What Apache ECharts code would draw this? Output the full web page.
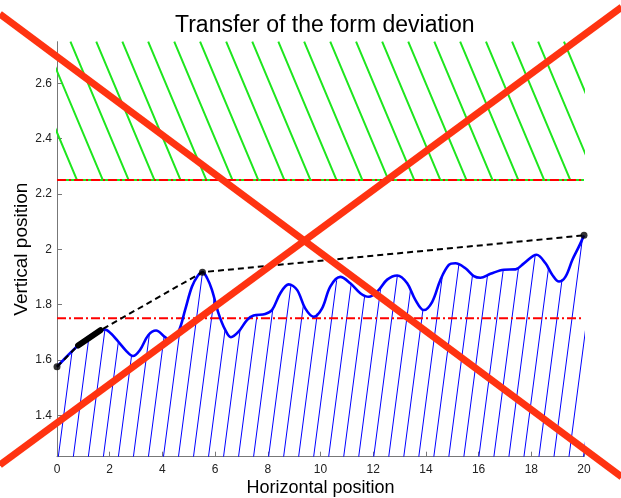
<!DOCTYPE html>
<html>
<head>
<meta charset="utf-8">
<script src="https://cdn.jsdelivr.net/npm/echarts@6/dist/echarts.min.js"></script>
<style>
html, body { margin: 0; padding: 0; background: #ffffff; }
#chart { width: 621px; height: 498px; }
</style>
</head>
<body>
<div id="chart"></div>
<script>
// ---------- data ----------
const titleText = 'Transfer of the form deviation';
const xAxisName = 'Horizontal position';
const yAxisName = 'Vertical position';

const xTickValues = [0, 2, 4, 6, 8, 10, 12, 14, 16, 18, 20];
const yTickValues = [1.4, 1.6, 1.8, 2, 2.2, 2.4, 2.6];

// measured form profile (blue curve)
const curveX = [0, 0.4, 0.8, 1.2, 1.5, 1.82, 2.05, 2.27, 2.65, 2.88, 3.15, 3.47, 3.76, 4.1, 4.29, 4.61, 4.86, 5.12, 5.35, 5.52, 5.7, 5.88, 6.13, 6.38, 6.6, 6.89, 7.21, 7.46, 7.9, 8.16, 8.47, 8.79, 9.11, 9.42, 9.74, 10.06, 10.37, 10.75, 11.13, 11.51, 11.83, 12.21, 12.53, 12.91, 13.29, 13.6, 13.92, 14.24, 14.55, 14.87, 15.12, 15.5, 15.82, 16.07, 16.45, 16.96, 17.4, 17.72, 18.2, 18.54, 18.8, 19.05, 19.3, 19.56, 19.81, 20];
const curveY = [1.575, 1.615, 1.652, 1.683, 1.700, 1.71, 1.695, 1.672, 1.630, 1.614, 1.636, 1.69, 1.706, 1.682, 1.672, 1.702, 1.78, 1.864, 1.905, 1.917, 1.895, 1.853, 1.768, 1.709, 1.682, 1.702, 1.744, 1.76, 1.766, 1.78, 1.84, 1.873, 1.853, 1.786, 1.756, 1.786, 1.865, 1.9, 1.877, 1.841, 1.828, 1.853, 1.89, 1.905, 1.877, 1.817, 1.78, 1.81, 1.889, 1.943, 1.949, 1.931, 1.903, 1.897, 1.911, 1.926, 1.927, 1.949, 1.98, 1.949, 1.907, 1.883, 1.901, 1.962, 2.01, 2.05];

// upper envelope (black dashed) and its support points
const hullX = [0, 0.8, 1.65, 5.52, 20];
const hullY = [1.575, 1.652, 1.707, 1.917, 2.05];
const hullSegX = [0.8, 1.65];
const hullSegY = [1.652, 1.707];
const hullDotX = [0, 5.52, 20];
const hullDotY = [1.575, 1.917, 2.05];

// limits
const upperLimitY = 2.25;
const lowerLimitY = 1.75;
const limitX = [0, 20];

// hatch line foot positions
const greenHatchBottomX = [0.76, 1.74, 2.72, 3.70, 4.69, 5.67, 6.66, 7.64, 8.63, 9.62, 10.61, 11.59, 12.58, 13.56, 14.55, 15.54, 16.53, 17.51, 18.49, 19.48, 20.47, 21.45];
const blueHatchBottomX = [0.05, 0.62, 1.19, 1.76, 2.33, 2.90, 3.47, 4.04, 4.61, 5.18, 5.75, 6.32, 6.89, 7.46, 8.03, 8.60, 9.17, 9.74, 10.31, 10.88, 11.45, 12.02, 12.59, 13.16, 13.73, 14.30, 14.87, 15.44, 16.01, 16.58, 17.15, 17.72, 18.29, 18.86, 19.43, 19.98];

// big red cross (data coordinates, runs beyond the axes to the picture edges)
const crossAX = [-2.17, 21.43];
const crossAY = [2.85, 1.177];
const crossBX = [-2.17, 21.43];
const crossBY = [1.22, 2.875];

// ---------- axis ranges / hatch geometry (style) ----------
const X_MIN = 0, X_MAX = 20, Y_MIN = 1.25, Y_MAX = 2.75;
const GREEN_RUN = 2.21;   // x shift of a green hatch line over the band
const BLUE_RUN = 1.37;    // x shift per unit of y for blue hatch lines

const FONT = 'Liberation Sans, Arial, Helvetica, sans-serif';

function zip(xs, ys) { return xs.map((x, i) => [x, ys[i]]); }

function curveAt(i, x) {
  return curveY[i] + (curveY[i + 1] - curveY[i]) * (x - curveX[i]) / (curveX[i + 1] - curveX[i]);
}
function hatchTop(xb) {
  for (let i = 0; i < curveX.length - 1; i++) {
    const x1 = curveX[i + 1];
    if (x1 <= xb) continue;
    const x0 = Math.max(curveX[i], xb);
    const g = x => Y_MIN + (x - xb) / BLUE_RUN - curveAt(i, x);
    const g0 = g(x0), g1 = g(x1);
    if (g0 <= 0 && g1 >= 0) {
      const x = g1 === g0 ? x0 : x0 + (x1 - x0) * (-g0) / (g1 - g0);
      return [x, curveAt(i, x)];
    }
  }
  return [xb + BLUE_RUN * (Y_MAX - Y_MIN), Y_MAX];
}

const greenHatch = [];
greenHatchBottomX.forEach(b => {
  greenHatch.push([b - GREEN_RUN, Y_MAX], [b, upperLimitY], [NaN, NaN]);
});
const blueHatch = [];
blueHatchBottomX.forEach(b => {
  blueHatch.push([b, Y_MIN], hatchTop(b), [NaN, NaN]);
});

const axisColor = '#777777';
const labelColor = '#222222';
const crossColor = '#ff3311';

const option = {
  animation: false,
  backgroundColor: '#ffffff',
  title: {
    text: titleText,
    left: 170,
    top: 9,
    textStyle: { fontFamily: FONT, fontSize: 23, fontWeight: 'normal', color: '#000000' }
  },
  grid: {
    left: 57, right: 37, top: 41.7, bottom: 41.3,
    containLabel: false,
    outerBoundsMode: 'none'
  },
  xAxis: {
    type: 'value',
    min: X_MIN, max: X_MAX, interval: 2,
    name: xAxisName,
    nameLocation: 'middle',
    nameGap: 22,
    nameMoveOverlap: false,
    nameTextStyle: { fontFamily: FONT, fontSize: 18, color: '#000000' },
    axisLine: { show: true, onZero: false, lineStyle: { color: axisColor, width: 1 } },
    axisTick: { show: true, inside: true, length: 5, customValues: xTickValues, lineStyle: { color: axisColor } },
    axisLabel: { show: true, margin: 7, fontFamily: FONT, fontSize: 12, color: labelColor, customValues: xTickValues },
    splitLine: { show: false }
  },
  yAxis: {
    type: 'value',
    min: Y_MIN, max: Y_MAX,
    name: yAxisName,
    nameLocation: 'middle',
    nameGap: 26,
    nameMoveOverlap: false,
    nameTextStyle: { fontFamily: FONT, fontSize: 19, color: '#000000' },
    axisLine: { show: true, onZero: false, lineStyle: { color: axisColor, width: 1 } },
    axisTick: { show: true, inside: true, length: 5, customValues: yTickValues, lineStyle: { color: axisColor } },
    axisLabel: { show: true, margin: 5, fontFamily: FONT, fontSize: 12, color: labelColor, customValues: yTickValues },
    splitLine: { show: false }
  },
  series: [
    {
      name: 'upper hatch', type: 'line', data: greenHatch, clip: true,
      symbol: 'none', connectNulls: false, silent: true,
      lineStyle: { color: '#1ee61e', width: 2 }, z: 2
    },
    {
      name: 'upper limit base', type: 'line', data: zip(limitX, [upperLimitY, upperLimitY]),
      symbol: 'none', silent: true,
      lineStyle: { color: '#1ee61e', width: 2 }, z: 3
    },
    {
      name: 'profile hatch', type: 'line', data: blueHatch, clip: true,
      symbol: 'none', connectNulls: false, silent: true,
      lineStyle: { color: '#0000ff', width: 1 }, z: 3
    },
    {
      name: 'upper limit', type: 'line', data: zip(limitX, [upperLimitY, upperLimitY]),
      symbol: 'none', silent: true,
      lineStyle: { color: '#ff0000', width: 2, type: [9, 3, 2, 3] }, z: 4
    },
    {
      name: 'lower limit', type: 'line', data: zip(limitX, [lowerLimitY, lowerLimitY]),
      symbol: 'none', silent: true,
      lineStyle: { color: '#ff0000', width: 2, type: [9, 3, 2, 3] }, z: 4
    },
    {
      name: 'profile', type: 'line', data: zip(curveX, curveY),
      symbol: 'none', smooth: 0.35, silent: true,
      lineStyle: { color: '#0000ff', width: 2.6 }, z: 5
    },
    {
      name: 'envelope', type: 'line', data: zip(hullX, hullY),
      symbol: 'none', silent: true,
      lineStyle: { color: '#000000', width: 2, type: [6, 4] }, z: 6
    },
    {
      name: 'envelope contact', type: 'line', data: zip(hullSegX, hullSegY),
      symbol: 'none', silent: true,
      lineStyle: { color: '#000000', width: 6, cap: 'round' }, z: 6
    },
    {
      name: 'envelope points', type: 'scatter', data: zip(hullDotX, hullDotY),
      symbol: 'circle', symbolSize: 7, silent: true, clip: false,
      itemStyle: { color: '#000000' }, z: 7
    }
  ]
};

const chart = echarts.init(document.getElementById('chart'), null, { renderer: 'canvas' });
chart.setOption(option);

// big red cross: endpoints converted through the chart's own axes, drawn unclipped
function toPx(xs, ys) {
  return xs.map((x, i) => chart.convertToPixel({ xAxisIndex: 0, yAxisIndex: 0 }, [x, ys[i]]));
}
chart.setOption({
  graphic: [
    { type: 'polyline', silent: true, z: 100, shape: { points: toPx(crossAX, crossAY) },
      style: { stroke: crossColor, lineWidth: 7, fill: null } },
    { type: 'polyline', silent: true, z: 100, shape: { points: toPx(crossBX, crossBY) },
      style: { stroke: crossColor, lineWidth: 7, fill: null } }
  ]
});
</script>
</body>
</html>
